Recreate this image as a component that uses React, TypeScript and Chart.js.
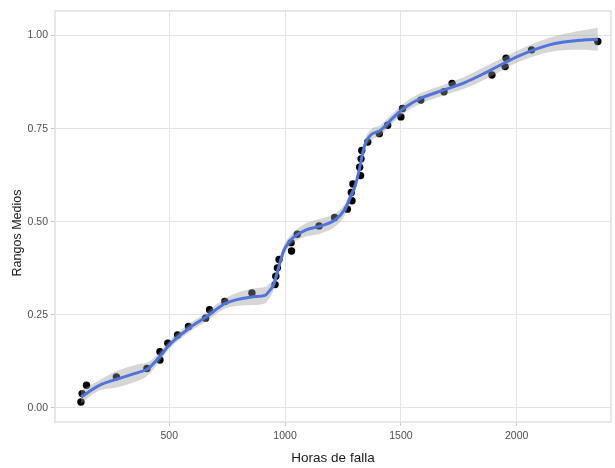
import React, { useEffect, useRef } from "react";
import { Chart, registerables } from "chart.js";

Chart.register(...registerables);

// Observed failure times (hours) and their median ranks
const hours = [
  119, 124, 143, 272, 404, 460, 460, 494, 536, 583, 657, 674, 740, 857, 957,
  960, 967, 974, 1028, 1026, 1053, 1147, 1214, 1269, 1289, 1286, 1293, 1326,
  1322, 1328, 1331, 1357, 1407, 1443, 1500, 1507, 1586, 1686, 1721, 1893, 1950,
  1954, 2064, 2350,
];
const ranks = [
  0.0158, 0.0383, 0.0608, 0.0833, 0.1059, 0.1284, 0.1509, 0.1734, 0.1959,
  0.2185, 0.241, 0.2635, 0.286, 0.3086, 0.3311, 0.3536, 0.3761, 0.3986, 0.4212,
  0.4437, 0.4662, 0.4887, 0.5113, 0.5338, 0.5563, 0.5788, 0.6014, 0.6239,
  0.6464, 0.6689, 0.6914, 0.714, 0.7365, 0.759, 0.7815, 0.8041, 0.8266, 0.8491,
  0.8716, 0.8941, 0.9167, 0.9392, 0.9617, 0.9842,
];

// Smoothed trend with its confidence band
const smoothX = [
  119, 200, 273, 371, 406, 457, 500, 586, 659, 744, 856, 916, 928, 950, 965,
  980, 995, 1014, 1036, 1091, 1151, 1216, 1259, 1280, 1301, 1323, 1336, 1349,
  1370, 1413, 1456, 1516, 1584, 1687, 1773, 1871, 1949, 2000, 2141, 2287, 2350,
];
const smoothY = [
  0.029, 0.061, 0.077, 0.096, 0.104, 0.136, 0.169, 0.214, 0.244, 0.281, 0.298,
  0.303, 0.311, 0.33, 0.36, 0.395, 0.423, 0.443, 0.458, 0.478, 0.488, 0.505,
  0.534, 0.564, 0.593, 0.647, 0.687, 0.714, 0.733, 0.746, 0.773, 0.806, 0.831,
  0.854, 0.873, 0.902, 0.927, 0.943, 0.975, 0.988, 0.99,
];
const bandHigh = [
  0.047, 0.075, 0.099, 0.118, 0.122, 0.149, 0.18, 0.225, 0.256, 0.295, 0.32,
  0.325, 0.331, 0.345, 0.373, 0.408, 0.436, 0.456, 0.472, 0.496, 0.508, 0.523,
  0.549, 0.577, 0.606, 0.66, 0.7, 0.728, 0.748, 0.76, 0.786, 0.819, 0.845,
  0.868, 0.889, 0.919, 0.943, 0.959, 0.994, 1.014, 1.021,
];
const bandLow = [
  0.011, 0.047, 0.055, 0.074, 0.086, 0.123, 0.158, 0.203, 0.232, 0.267, 0.276,
  0.281, 0.291, 0.315, 0.347, 0.382, 0.41, 0.43, 0.444, 0.46, 0.468, 0.487,
  0.519, 0.551, 0.58, 0.634, 0.674, 0.7, 0.718, 0.732, 0.76, 0.793, 0.817,
  0.84, 0.857, 0.885, 0.911, 0.927, 0.956, 0.962, 0.959,
];

const xTicks = [500, 1000, 1500, 2000];
const yTicks = [0, 0.25, 0.5, 0.75, 1];
const xRange = [7, 2407];
const yRange = [-0.038, 1.066];

const xTitle = "Horas de falla";
const yTitle = "Rangos Medios";

const fontFamily = "'Liberation Sans', Arial, sans-serif";

const toPoints = (xs: number[], ys: number[]) => xs.map((x, i) => ({ x, y: ys[i] }));

// Light frame around the plotting panel
const panelBorder = {
  id: "panelBorder",
  afterDatasetsDraw(chart: any) {
    const { ctx, chartArea } = chart;
    const { left, top, right, bottom } = chartArea;
    ctx.save();
    ctx.strokeStyle = "#e0e0e0";
    ctx.lineWidth = 1.5;
    ctx.strokeRect(left, top, right - left, bottom - top);
    ctx.restore();
  },
};

// Rotated y-axis caption
const yCaption = {
  id: "yCaption",
  afterDraw(chart: any) {
    const { ctx } = chart;
    ctx.save();
    ctx.translate(18, 233);
    ctx.rotate(-Math.PI / 2);
    ctx.font = `12.5px ${fontFamily}`;
    ctx.fillStyle = "#1a1a1a";
    ctx.textAlign = "center";
    ctx.textBaseline = "middle";
    ctx.fillText(yTitle, 0, 0);
    ctx.restore();
  },
};

export default function App() {
  const canvasRef = useRef<HTMLCanvasElement | null>(null);

  useEffect(() => {
    if (!canvasRef.current) return;
    const chart = new Chart(canvasRef.current, {
      type: "scatter",
      data: {
        datasets: [
          {
            label: "fit",
            data: toPoints(smoothX, smoothY),
            showLine: true,
            borderColor: "#4f74dc",
            borderWidth: 3,
            pointRadius: 0,
            cubicInterpolationMode: "monotone",
            fill: false,
          },
          {
            label: "upper",
            data: toPoints(smoothX, bandHigh),
            showLine: true,
            borderWidth: 0,
            borderColor: "rgba(0,0,0,0)",
            pointRadius: 0,
            cubicInterpolationMode: "monotone",
            backgroundColor: "rgba(153,153,153,0.4)",
            fill: "+1",
          },
          {
            label: "lower",
            data: toPoints(smoothX, bandLow),
            showLine: true,
            borderWidth: 0,
            borderColor: "rgba(0,0,0,0)",
            pointRadius: 0,
            cubicInterpolationMode: "monotone",
            fill: false,
          },
          {
            label: "ranks",
            data: toPoints(hours, ranks),
            pointRadius: 3.7,
            pointBackgroundColor: "#000000",
            pointBorderWidth: 0,
            showLine: false,
          },
        ],
      },
      options: {
        animation: false,
        responsive: false,
        devicePixelRatio: 1,
        layout: { padding: { top: 11, left: 0, right: 0, bottom: 0 } },
        plugins: { legend: { display: false }, tooltip: { enabled: false } },
        scales: {
          x: {
            type: "linear",
            min: xRange[0],
            max: xRange[1],
            afterBuildTicks: (s: any) => {
              s.ticks = xTicks.map((v) => ({ value: v }));
            },
            afterFit: (s: any) => {
              s.height = 46;
            },
            ticks: {
              autoSkip: false,
              maxRotation: 0,
              padding: 4,
              color: "#4d4d4d",
              font: { family: fontFamily, size: 10.5 },
              callback: (v: any) => String(v),
            },
            grid: { color: "#e4e4e4", lineWidth: 1, tickColor: "#c8c8c8", tickLength: 4 },
            border: { display: false },
            title: {
              display: true,
              text: xTitle,
              color: "#1a1a1a",
              font: { family: fontFamily, size: 13.5 },
              padding: { top: 0, bottom: 2 },
            },
          },
          y: {
            type: "linear",
            min: yRange[0],
            max: yRange[1],
            afterBuildTicks: (s: any) => {
              s.ticks = yTicks.map((v) => ({ value: v }));
            },
            afterFit: (s: any) => {
              s.width = 55;
            },
            ticks: {
              autoSkip: false,
              padding: 3,
              color: "#4d4d4d",
              font: { family: fontFamily, size: 10.5 },
              callback: (v: any) => Number(v).toFixed(2),
            },
            grid: { color: "#e4e4e4", lineWidth: 1, tickColor: "#c8c8c8", tickLength: 4 },
            border: { display: false },
            title: { display: false },
          },
        },
      },
      plugins: [panelBorder, yCaption],
    });
    return () => chart.destroy();
  }, []);

  return (
    <div style={{ position: "absolute", left: 0, top: 0, width: 615, height: 468, background: "#ffffff" }}>
      <canvas ref={canvasRef} width={615} height={468} style={{ display: "block" }} />
    </div>
  );
}
